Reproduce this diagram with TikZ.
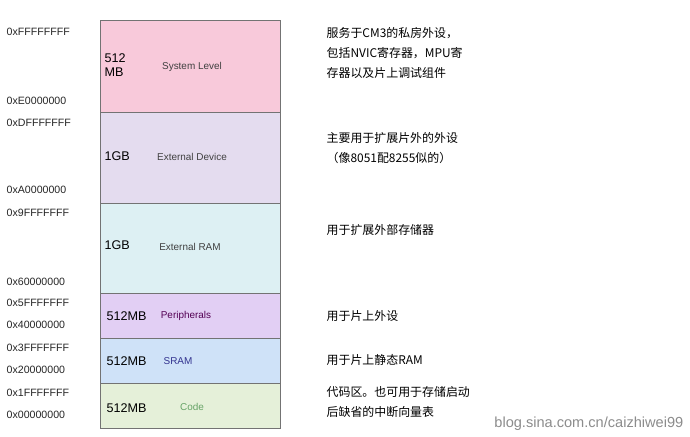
\documentclass[tikz,border=0pt]{standalone}
\usepackage{fontspec}
\setmainfont{Liberation Sans}
\newfontfamily\cjk{Noto Sans CJK SC}
\usetikzlibrary{positioning}
\definecolor{pinkbg}{HTML}{F8C9DA}
\definecolor{lavbg}{HTML}{E4DCEF}
\definecolor{cyanbg}{HTML}{DDF0F3}
\definecolor{purpbg}{HTML}{E2CFF4}
\definecolor{bluebg}{HTML}{CFE2F8}
\definecolor{greenbg}{HTML}{E5F0D9}
\begin{document}
\begin{tikzpicture}[x=0.0265cm,y=-0.0265cm]
  \tikzset{region/.style = {draw=black!55, line width=0.5pt, minimum width=180*0.0265cm, inner sep=0pt}}
  \tikzset{addr/.style = {anchor=west, font=\fontsize{8}{9}\selectfont, text=black!85}}
  \tikzset{sizelbl/.style = {anchor=west, font=\fontsize{9.5}{11}\selectfont, align=left}}
  \tikzset{reglbl/.style = {font=\fontsize{7.5}{9}\selectfont, text=black!75}}
  \tikzset{note/.style = {anchor=west, font=\cjk\fontsize{9}{15}\selectfont, align=left}}
  \useasboundingbox (0,0) rectangle (690,436);
  \fill[white] (0,0) rectangle (690,436);

  % regions
  \node[region, fill=pinkbg, minimum height=92*0.0265cm] (sys) at (190,66) {};
  \node[region, fill=lavbg, minimum height=91*0.0265cm] (dev) at (190,157.5) {};
  \node[region, fill=cyanbg, minimum height=90*0.0265cm] (ram) at (190,248) {};
  \node[region, fill=purpbg, minimum height=45*0.0265cm] (per) at (190,315.5) {};
  \node[region, fill=bluebg, minimum height=45*0.0265cm] (sram) at (190,360.5) {};
  \node[region, fill=greenbg, minimum height=45*0.0265cm] (code) at (190,405.5) {};

  % sizes and names
  \node[sizelbl] (s1) at (100,65) {512\\MB};
  \node[reglbl] (n1) at (192,67) {System Level};
  \node[sizelbl] (s2) at (100,156) {1GB};
  \node[reglbl] (n2) at (192,157) {External Device};
  \node[sizelbl] (s3) at (100,245) {1GB};
  \node[reglbl] (n3) at (190,247) {External RAM};
  \node[sizelbl] (s4) at (102,316) {512MB};
  \node[reglbl, text=violet!65!black] (n4) at (186,316) {Peripherals};
  \node[sizelbl] (s5) at (102,361) {512MB};
  \node[reglbl, text=blue!45!black!80] (n5) at (178,361) {SRAM};
  \node[sizelbl] (s6) at (102,408) {512MB};
  \node[reglbl, text=black!60!green!60] (n6) at (192,407) {Code};

  % addresses
  \foreach \y/\t in {32/FFFFFFFF,101/E0000000,123/DFFFFFFF,190/A0000000,213/9FFFFFFF,282/60000000,
                     303/5FFFFFFF,325/40000000,348/3FFFFFFF,370/20000000,393/1FFFFFFF,415/00000000}
  {
    \node[addr] (a\y) at (2,\y) {0x\t};
  }

  % notes
  \node[note] (c1) at (322,53) {服务于CM3的私房外设，\\包括NVIC寄存器，MPU寄\\存器以及片上调试组件};
  \node[note] (c2) at (322,148) {主要用于扩展片外的外设\\（像8051配8255似的）};
  \node[note] (c3) at (322,230) {用于扩展外部存储器};
  \node[note] (c4) at (322,316) {用于片上外设};
  \node[note] (c5) at (322,360) {用于片上静态RAM};
  \node[note] (c6) at (322,402) {代码区。也可用于存储启动\\后缺省的中断向量表};

  \node[anchor=east, font=\fontsize{11}{12}\selectfont, text=black!45] (wm) at (688,424) {blog.sina.com.cn/caizhiwei99};
\end{tikzpicture}
\end{document}
